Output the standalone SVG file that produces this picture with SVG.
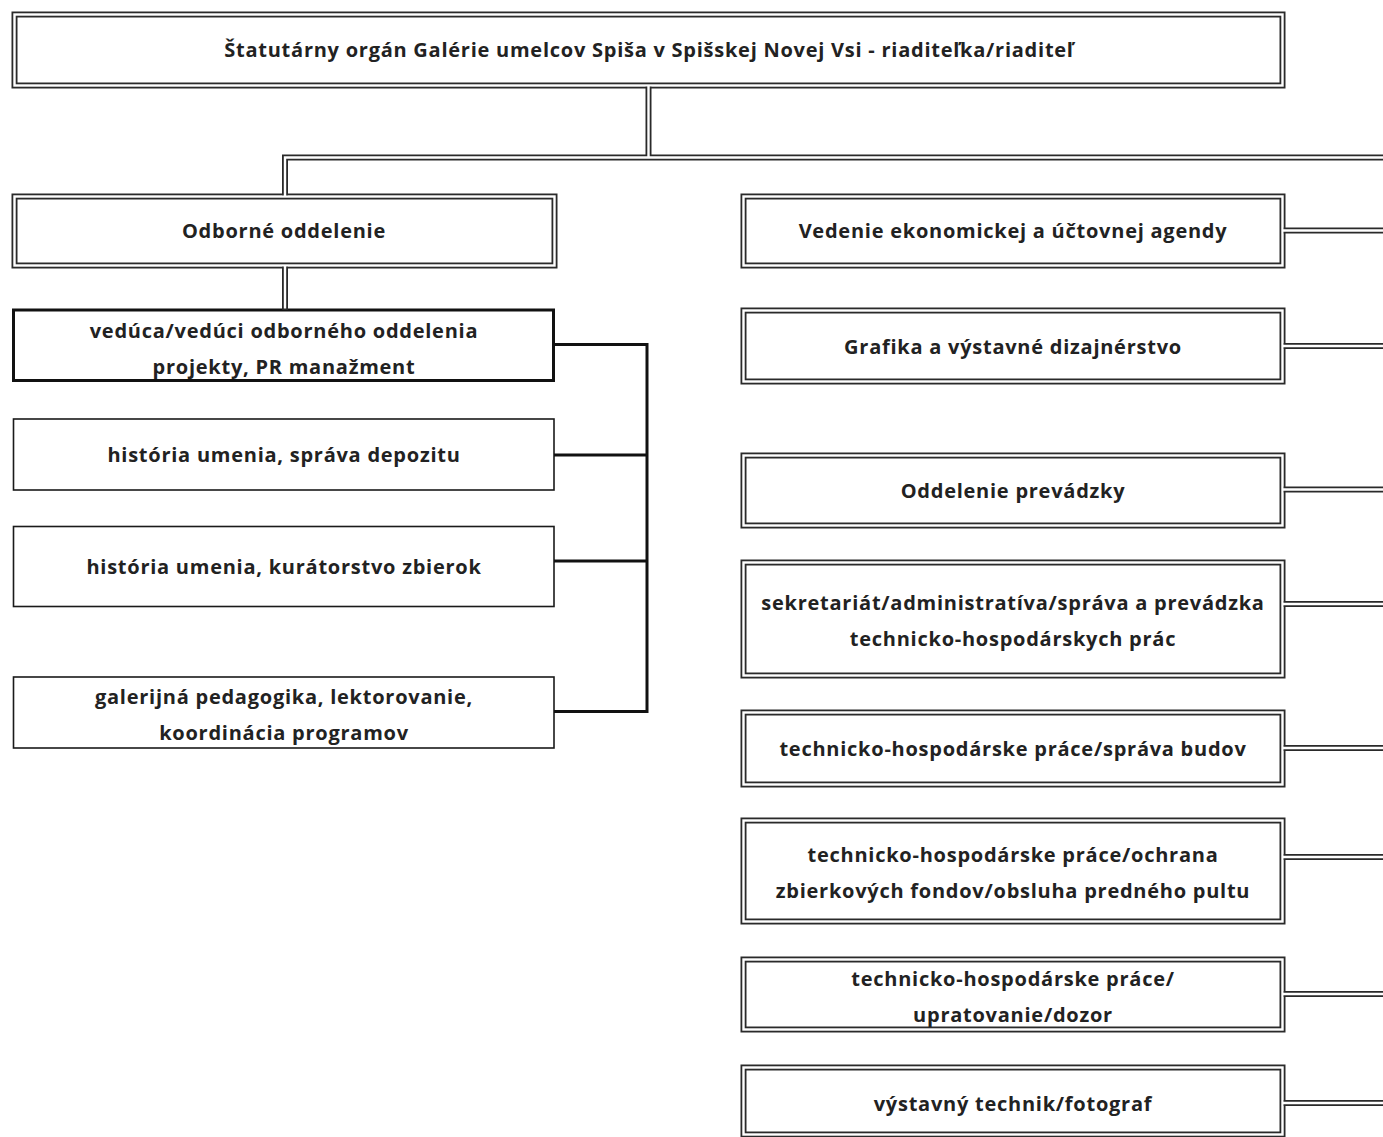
<svg xmlns="http://www.w3.org/2000/svg" width="1383" height="1137" viewBox="0 0 1383 1137">
<style>
.dk{fill:#fff;stroke:#2a2a2a;stroke-width:6}
.wh{fill:none;stroke:#fff;stroke-width:2.4}
.cd{fill:none;stroke:#2a2a2a;stroke-width:6;stroke-linejoin:miter}
.cw{fill:none;stroke:#fff;stroke-width:2.4;stroke-linejoin:miter}
.thin{fill:#fff;stroke:#1a1a1a;stroke-width:1.6}
.thick{fill:#fff;stroke:#111;stroke-width:3}
.br{fill:none;stroke:#111;stroke-width:3}
text{font-family:"Open Sans","Liberation Sans",sans-serif;font-weight:700;font-size:20px;letter-spacing:0.75px;fill:#222;text-anchor:middle}
</style>
<rect width="1383" height="1137" fill="#fff"/>
<g id="top">
<rect class="dk" x="14.5" y="14.5" width="1268" height="71"/><rect class="wh" x="14.5" y="14.5" width="1268" height="71"/>
<text x="649" y="57">Štatutárny orgán Galérie umelcov Spiša v Spišskej Novej Vsi - riaditeľka/riaditeľ</text>
</g>
<g id="odborne">
<rect class="dk" x="14.5" y="196.5" width="540" height="69"/><rect class="wh" x="14.5" y="196.5" width="540" height="69"/>
<text x="284" y="238">Odborné oddelenie</text>
</g>
<g id="veduca">
<rect class="thick" x="13.5" y="310" width="540" height="70.5"/>
<text x="284" y="338">vedúca/vedúci odborného oddelenia</text>
<text x="284" y="374">projekty, PR manažment</text>
</g>
<g id="depozit">
<rect class="thin" x="13.5" y="419" width="540.5" height="71"/>
<text x="284" y="462">história umenia, správa depozitu</text>
</g>
<g id="kuratorstvo">
<rect class="thin" x="13.5" y="526.5" width="540.5" height="80"/>
<text x="284" y="574">história umenia, kurátorstvo zbierok</text>
</g>
<g id="pedagogika">
<rect class="thin" x="13.5" y="677" width="540.5" height="71"/>
<text x="284" y="704">galerijná pedagogika, lektorovanie,</text>
<text x="284" y="740">koordinácia programov</text>
</g>
<g id="vedenie">
<rect class="dk" x="743.5" y="196.5" width="539" height="69"/><rect class="wh" x="743.5" y="196.5" width="539" height="69"/>
<text x="1013" y="238">Vedenie ekonomickej a účtovnej agendy</text>
</g>
<g id="grafika">
<rect class="dk" x="743.5" y="310.5" width="539" height="71"/><rect class="wh" x="743.5" y="310.5" width="539" height="71"/>
<text x="1013" y="354">Grafika a výstavné dizajnérstvo</text>
</g>
<g id="prevadzka">
<rect class="dk" x="743.5" y="455.5" width="539" height="70"/><rect class="wh" x="743.5" y="455.5" width="539" height="70"/>
<text x="1013" y="498">Oddelenie prevádzky</text>
</g>
<g id="sekretariat">
<rect class="dk" x="743.5" y="562.5" width="539" height="113"/><rect class="wh" x="743.5" y="562.5" width="539" height="113"/>
<text x="1013" y="610">sekretariát/administratíva/správa a prevádzka</text>
<text x="1013" y="646">technicko-hospodárskych prác</text>
</g>
<g id="budovy">
<rect class="dk" x="743.5" y="712.5" width="539" height="72"/><rect class="wh" x="743.5" y="712.5" width="539" height="72"/>
<text x="1013" y="756">technicko-hospodárske práce/správa budov</text>
</g>
<g id="ochrana">
<rect class="dk" x="743.5" y="820.5" width="539" height="101"/><rect class="wh" x="743.5" y="820.5" width="539" height="101"/>
<text x="1013" y="862">technicko-hospodárske práce/ochrana</text>
<text x="1013" y="898">zbierkových fondov/obsluha predného pultu</text>
</g>
<g id="upratovanie">
<rect class="dk" x="743.5" y="959.5" width="539" height="70"/><rect class="wh" x="743.5" y="959.5" width="539" height="70"/>
<text x="1013" y="986">technicko-hospodárske práce/</text>
<text x="1013" y="1022">upratovanie/dozor</text>
</g>
<g id="technik">
<rect class="dk" x="743.5" y="1067.5" width="539" height="67"/><rect class="wh" x="743.5" y="1067.5" width="539" height="67"/>
<text x="1013" y="1111">výstavný technik/fotograf</text>
</g>
<g id="connectors">
<g class="cd">
<path d="M648.5 86.7V157.5"/>
<path d="M1383 157.5H285V195.3"/>
<path d="M285 266.7V310"/>
<path d="M1283.7 230.5H1383"/>
<path d="M1283.7 346H1383"/>
<path d="M1283.7 489.5H1383"/>
<path d="M1283.7 604H1383"/>
<path d="M1283.7 748H1383"/>
<path d="M1283.7 857H1383"/>
<path d="M1283.7 994H1383"/>
<path d="M1283.7 1103H1383"/>
</g>
<g class="cw">
<path d="M648.5 85.5V157.5"/>
<path d="M1383 157.5H285V196.5"/>
<path d="M285 265.5V308.5"/>
<path d="M1282.5 230.5H1383"/>
<path d="M1282.5 346H1383"/>
<path d="M1282.5 489.5H1383"/>
<path d="M1282.5 604H1383"/>
<path d="M1282.5 748H1383"/>
<path d="M1282.5 857H1383"/>
<path d="M1282.5 994H1383"/>
<path d="M1282.5 1103H1383"/>
</g>
<path class="br" d="M554 344.5H647V711.5H554M554 455H647M554 561H647"/>
</g>
</svg>
